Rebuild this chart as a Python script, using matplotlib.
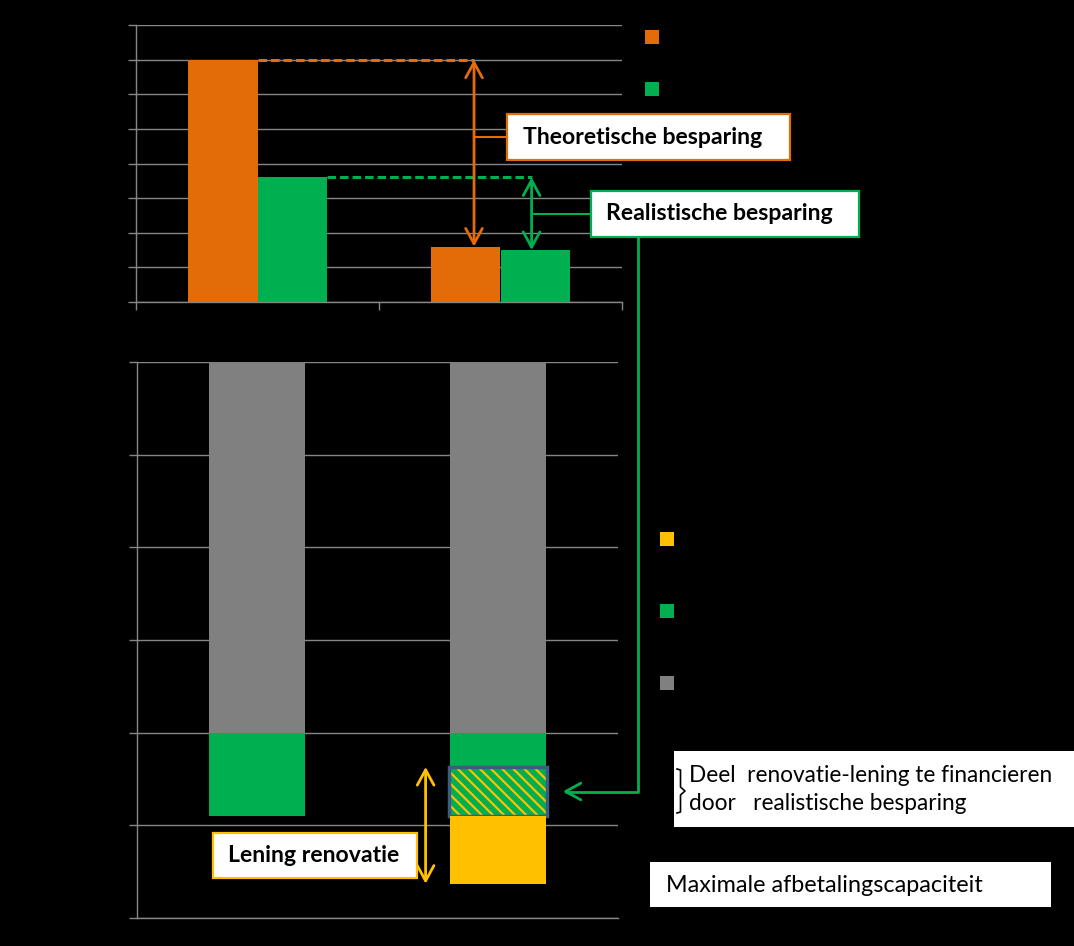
import numpy as np
import matplotlib
matplotlib.use("Agg")
from matplotlib import pyplot as plt
from matplotlib.patches import Rectangle
from matplotlib.lines import Line2D
from matplotlib.patches import ArrowStyle

plt.rcParams['font.family'] = ['Lato', 'DejaVu Sans']
plt.rcParams['hatch.linewidth'] = 1.6

# top chart: monthly energy cost before / after renovation
theoretical = [7.0, 1.6]
realistic = [3.6, 1.5]

# bottom chart: stacked budget (axis runs top-down)
grey_part = [4.0, 4.0]
green_part = [0.9, 0.37]
hatch_part = [0.0, 0.53]
yellow_part = [0.0, 0.73]

ORANGE = '#E36C09'
GREEN = '#00B050'
GREY = '#808080'
YELLOW = '#FFC000'
BLUE = '#3B5B85'
GRID = '#868686'

W, H = 1074, 946


def fx(x):
    return x / W


def fy(y):
    return 1 - y / H


fig = plt.figure(figsize=(W / 100, H / 100), dpi=100, facecolor='black')

ax1 = fig.add_axes([fx(136), fy(302), (622 - 136) / W, (302 - 25) / H])
ax2 = fig.add_axes([fx(137), fy(918), (618 - 137) / W, (918 - 362) / H])

for a in (ax1, ax2):
    a.set_facecolor('black')
    a.set_axisbelow(True)
    a.grid(axis='y', color=GRID, lw=1.0)
    for s in ('top', 'right'):
        a.spines[s].set_visible(False)
    for s in ('left', 'bottom'):
        a.spines[s].set_color(GRID)
        a.spines[s].set_linewidth(1.0)
    a.tick_params(colors=GRID, length=6, width=1.0, labelleft=False, labelbottom=False)

x = np.arange(2)

# ---- top chart
bw = 0.286
ax1.bar(x - bw / 2, theoretical, bw, color=ORANGE)
ax1.bar(x + bw / 2, realistic, bw, color=GREEN)
ax1.set_xlim(-0.5, 1.5)
ax1.set_ylim(0, 8)
ax1.set_yticks(np.arange(0, 9))
ax1.set_xticks([-0.5, 0.5, 1.5])
ax1.tick_params(axis='x', direction='out', length=6)

xo = 1 - bw / 2 + 0.034
xg = 1 + bw / 2 - 0.015
ax1.plot([0, xo], [theoretical[0], theoretical[0]], color=ORANGE, lw=2.2, ls=(0, (2.8, 1.3)))
ax1.plot([bw, xg], [realistic[0], realistic[0]], color=GREEN, lw=2.2, ls=(0, (2.8, 1.3)))

arr = ArrowStyle('<->', head_length=0.55, head_width=0.3)
ax1.annotate('', xy=(xo, theoretical[1]), xytext=(xo, theoretical[0]),
             arrowprops=dict(arrowstyle=arr, color=ORANGE, lw=2, mutation_scale=20,
                             shrinkA=0, shrinkB=0))
ax1.annotate('', xy=(xg, realistic[1]), xytext=(xg, realistic[0]),
             arrowprops=dict(arrowstyle=arr, color=GREEN, lw=2, mutation_scale=20,
                             shrinkA=0, shrinkB=0))

# ---- bottom chart
bw2 = 0.4
b2 = np.array(grey_part) + np.array(green_part)
b3 = b2 + np.array(hatch_part)
ax2.bar(x, grey_part, bw2, color=GREY)
ax2.bar(x, green_part, bw2, bottom=grey_part, color=GREEN)
ax2.bar(x[1], hatch_part[1], bw2, bottom=b2[1], color=GREEN, edgecolor=YELLOW,
        hatch='\\\\\\', lw=0)
ax2.bar(x[1], hatch_part[1], bw2 * 1.02, bottom=b2[1], fill=False, edgecolor=BLUE, lw=2.5)
ax2.bar(x, yellow_part, bw2, bottom=b3, color=YELLOW, lw=0)
ax2.set_xlim(-0.5, 1.5)
ax2.set_ylim(6, 0)
ax2.set_yticks(np.arange(0, 7))
ax2.set_xticks([])

ya = b2[1]
yb = b3[1] + yellow_part[1]
ax2.annotate('', xy=(1 - bw2 / 2 - 0.1, yb), xytext=(1 - bw2 / 2 - 0.1, ya),
             arrowprops=dict(arrowstyle=arr, color=YELLOW, lw=2, mutation_scale=20,
                             shrinkA=0, shrinkB=0))

ax2.annotate('', xy=(1 + bw2 / 2 + 0.07, b2[1] + hatch_part[1] / 2), xycoords='data',
             xytext=(fx(638), fy(237)), textcoords='figure fraction',
             arrowprops=dict(arrowstyle=ArrowStyle('->', head_length=0.55, head_width=0.3),
                             color=GREEN, lw=2, mutation_scale=20, shrinkA=0, shrinkB=0,
                             connectionstyle='angle,angleA=90,angleB=0,rad=0'))

# ---- connectors and boxes (figure pixels)
fig.add_artist(Line2D([fx(474), fx(507)], [fy(137), fy(137)], color=ORANGE, lw=1.5))
fig.add_artist(Line2D([fx(532), fx(591)], [fy(214), fy(214)], color=GREEN, lw=1.5))


def box(x0, y0, x1, y1, edge, lw=1.6):
    fig.add_artist(Rectangle((fx(x0), fy(y1)), (x1 - x0) / W, (y1 - y0) / H,
                             transform=fig.transFigure, facecolor='white',
                             edgecolor=edge, lw=lw))


box(507, 114, 790, 160, ORANGE)
box(591, 191, 859, 237, GREEN)
box(213, 833, 417, 878, YELLOW)
box(674, 751, 1080, 827, 'white', lw=0)
box(650, 862, 1051, 907, 'white', lw=0)

fig.text(fx(643), fy(137), 'Theoretische besparing', ha='center', va='center',
         fontsize=16.6, fontweight='bold', color='black')
fig.text(fx(719), fy(214), 'Realistische besparing', ha='center', va='center',
         fontsize=16.6, fontweight='bold', color='black')
fig.text(fx(314), fy(855), 'Lening renovatie', ha='center', va='center',
         fontsize=16.6, fontweight='bold', color='black')
fig.text(fx(689), fy(775), 'Deel  renovatie-lening te financieren', ha='left', va='center',
         fontsize=16.3, color='black')
fig.text(fx(689), fy(804), 'door   realistische besparing', ha='left', va='center',
         fontsize=16.3, color='black')
fig.text(fx(666), fy(885), 'Maximale afbetalingscapaciteit', ha='left', va='center',
         fontsize=16.8, color='black')

# bracket in front of the note
bx = [677, 680.5, 680.5, 685, 680.5, 680.5, 677]
by = [769, 770, 787, 791, 795, 812, 813]
fig.add_artist(Line2D([fx(v) for v in bx], [fy(v) for v in by], color='black', lw=1.2))

# legend squares
for yy, c in [(30, ORANGE), (82, GREEN)]:
    fig.add_artist(Rectangle((fx(645), fy(yy + 14)), 14 / W, 14 / H,
                             transform=fig.transFigure, color=c, lw=0))
for yy, c in [(532, YELLOW), (604, GREEN), (676, GREY)]:
    fig.add_artist(Rectangle((fx(660), fy(yy + 14)), 14 / W, 14 / H,
                             transform=fig.transFigure, color=c, lw=0))

fig.savefig('out.png', dpi=100, facecolor='black')
